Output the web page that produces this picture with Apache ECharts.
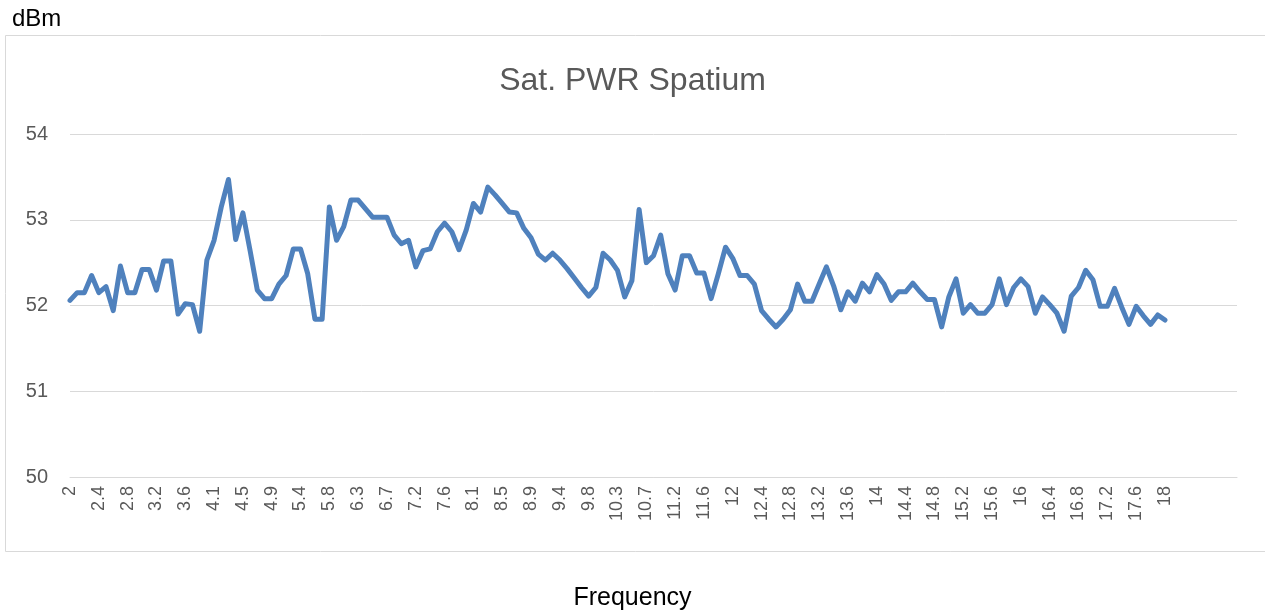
<!DOCTYPE html>
<html>
<head>
<meta charset="utf-8">
<script src="https://cdn.jsdelivr.net/npm/echarts@6/dist/echarts.min.js"></script>
<style>
html,body{margin:0;padding:0;background:#fff;}
#chart{width:1265px;height:615px;}
</style>
</head>
<body>
<div id="chart"></div>
<script>
// Frequency categories (GHz)
const categories = [
"2","2.1","2.2","2.3","2.4","2.5","2.6","2.7","2.8","2.9","3","3.1","3.2","3.3","3.4","3.5",
"3.6","3.7","3.8","4","4.1","4.2","4.3","4.4","4.5","4.6","4.7","4.8","4.9","5","5.2","5.3",
"5.4","5.5","5.6","5.7","5.8","6","6.1","6.2","6.3","6.4","6.5","6.6","6.7","6.8","7","7.1",
"7.2","7.3","7.4","7.5","7.6","7.7","7.9","8","8.1","8.2","8.3","8.4","8.5","8.6","8.7","8.8",
"8.9","9","9.2","9.3","9.4","9.5","9.6","9.7","9.8","10","10.1","10.2","10.3","10.4","10.5","10.6",
"10.7","10.8","11","11.1","11.2","11.3","11.4","11.5","11.6","11.7","11.8","11.9","12","12.1","12.2","12.3",
"12.4","12.5","12.6","12.7","12.8","12.9","13","13.1","13.2","13.3","13.4","13.5","13.6","13.7","13.8","13.9",
"14","14.1","14.2","14.3","14.4","14.5","14.6","14.7","14.8","14.9","15","15.1","15.2","15.3","15.4","15.5",
"15.6","15.7","15.8","15.9","16","16.1","16.2","16.3","16.4","16.5","16.6","16.7","16.8","16.9","17","17.1",
"17.2","17.3","17.4","17.5","17.6","17.7","17.8","17.9","18",
"","","","","","","","","",""
];

// Saturated power (dBm)
const satPwr = [
52.06,52.15,52.15,52.35,52.15,52.22,51.94,52.46,52.15,52.15,52.42,52.42,52.18,52.52,52.52,51.90,
52.02,52.01,51.70,52.53,52.76,53.15,53.47,52.77,53.08,52.64,52.18,52.08,52.08,52.25,52.35,52.66,
52.66,52.37,51.84,51.84,53.15,52.76,52.92,53.23,53.23,53.13,53.03,53.03,53.03,52.82,52.72,52.76,
52.45,52.64,52.66,52.86,52.96,52.86,52.65,52.88,53.19,53.09,53.38,53.29,53.19,53.09,53.08,52.90,
52.79,52.60,52.53,52.61,52.53,52.43,52.32,52.21,52.11,52.21,52.61,52.53,52.41,52.10,52.29,53.12,
52.50,52.58,52.82,52.37,52.18,52.58,52.58,52.38,52.38,52.08,52.37,52.68,52.55,52.35,52.35,52.25,
51.94,51.84,51.75,51.84,51.95,52.25,52.05,52.05,52.25,52.45,52.23,51.95,52.16,52.05,52.26,52.16,
52.36,52.25,52.06,52.16,52.16,52.26,52.16,52.07,52.07,51.75,52.10,52.31,51.91,52.01,51.91,51.91,
52.01,52.31,52.01,52.21,52.31,52.22,51.91,52.10,52.01,51.91,51.70,52.11,52.21,52.41,52.30,51.99,
51.99,52.20,51.98,51.78,51.99,51.88,51.78,51.89,51.83
];

const yMin = 50, yMax = 54, yStep = 1;

const chart = echarts.init(document.getElementById('chart'), null, {renderer:'canvas'});
const textColor = '#595959';
chart.setOption({
  animation:false,
  backgroundColor:'#ffffff',
  title:{
    text:'Sat. PWR Spatium',
    left:'center', top:60,
    textStyle:{fontFamily:'Liberation Sans, Arial, sans-serif', fontSize:32, fontWeight:'normal', color:textColor}
  },
  graphic:[
    {type:'rect', shape:{x:5.5,y:35.5,width:1270,height:516}, style:{fill:'none', stroke:'#d9d9d9', lineWidth:1}, silent:true},
    {type:'text', left:12, top:7, style:{text:'dBm', fontFamily:'Liberation Sans, Arial, sans-serif', fontSize:24, fill:'#000'}},
    {type:'text', left:'center', top:586, style:{text:'Frequency', fontFamily:'Liberation Sans, Arial, sans-serif', fontSize:25, fill:'#000'}}
  ],
  grid:{left:70, right:28, top:134, bottom:138},
  xAxis:{
    type:'category',
    data:categories,
    boundaryGap:false,
    axisLine:{show:true, lineStyle:{color:'#d9d9d9', width:1}},
    axisTick:{show:false},
    axisLabel:{interval:3, rotate:90, color:textColor, fontSize:18, fontFamily:'Liberation Sans, Arial, sans-serif', margin:9},
    splitLine:{show:false}
  },
  yAxis:{
    type:'value',
    min:yMin, max:yMax, interval:yStep,
    axisLine:{show:false},
    axisTick:{show:false},
    axisLabel:{color:textColor, fontSize:20, fontFamily:'Liberation Sans, Arial, sans-serif', margin:22},
    splitLine:{lineStyle:{color:'#d9d9d9', width:1}}
  },
  series:[{
    type:'line',
    data:satPwr,
    showSymbol:false,
    symbol:'none',
    lineStyle:{color:'#4F81BD', width:5, join:'round', cap:'round'},
    itemStyle:{color:'#4F81BD'}
  }]
});
</script>
</body>
</html>
